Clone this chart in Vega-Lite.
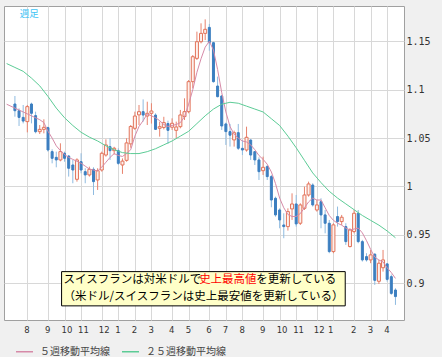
{
  "$schema": "https://vega.github.io/schema/vega-lite/v6.json",
  "width": 400,
  "height": 314,
  "autosize": {"type": "none"},
  "padding": {"left": 4, "top": 6, "right": 38, "bottom": 37},
  "background": "#f0f0f0",
  "config": {
    "view": {"fill": "white", "stroke": "#a0a0a0"},
    "axis": {"gridColor": "#d8d8d8", "gridWidth": 1, "ticks": false, "domain": false, "title": null}
  },
  "datasets": {
    "candles": [
      {"d":"2009-07-13","o":1.0852,"h":1.0935,"l":1.0721,"c":1.0783},
      {"d":"2009-07-20","o":1.0783,"h":1.0807,"l":1.0625,"c":1.0714},
      {"d":"2009-07-27","o":1.0714,"h":1.0842,"l":1.0652,"c":1.0676},
      {"d":"2009-08-03","o":1.0670,"h":1.0842,"l":1.0559,"c":1.0825},
      {"d":"2009-08-10","o":1.0852,"h":1.0866,"l":1.0652,"c":1.0756},
      {"d":"2009-08-17","o":1.0732,"h":1.0773,"l":1.0549,"c":1.0566},
      {"d":"2009-08-24","o":1.0566,"h":1.0635,"l":1.0542,"c":1.0590},
      {"d":"2009-08-31","o":1.0590,"h":1.0694,"l":1.0549,"c":1.0611},
      {"d":"2009-09-07","o":1.0608,"h":1.0618,"l":1.0360,"c":1.0377},
      {"d":"2009-09-14","o":1.0360,"h":1.0384,"l":1.0239,"c":1.0291},
      {"d":"2009-09-21","o":1.0301,"h":1.0360,"l":1.0198,"c":1.0274},
      {"d":"2009-09-28","o":1.0274,"h":1.0446,"l":1.0260,"c":1.0360},
      {"d":"2009-10-05","o":1.0343,"h":1.0360,"l":1.0256,"c":1.0291},
      {"d":"2009-10-12","o":1.0315,"h":1.0325,"l":1.0102,"c":1.0188},
      {"d":"2009-10-19","o":1.0222,"h":1.0274,"l":1.0033,"c":1.0170},
      {"d":"2009-10-26","o":1.0074,"h":1.0291,"l":1.0050,"c":1.0274},
      {"d":"2009-11-02","o":1.0256,"h":1.0343,"l":1.0136,"c":1.0170},
      {"d":"2009-11-09","o":1.0153,"h":1.0188,"l":1.0033,"c":1.0119},
      {"d":"2009-11-16","o":1.0119,"h":1.0205,"l":1.0102,"c":1.0177},
      {"d":"2009-11-23","o":1.0177,"h":1.0198,"l":0.9912,"c":1.0050},
      {"d":"2009-11-30","o":1.0067,"h":1.0188,"l":0.9964,"c":1.0163},
      {"d":"2009-12-07","o":1.0170,"h":1.0360,"l":1.0153,"c":1.0343},
      {"d":"2009-12-14","o":1.0325,"h":1.0487,"l":1.0308,"c":1.0429},
      {"d":"2009-12-21","o":1.0411,"h":1.0498,"l":1.0274,"c":1.0370},
      {"d":"2009-12-28","o":1.0370,"h":1.0410,"l":1.0330,"c":1.0395},
      {"d":"2010-01-04","o":1.0370,"h":1.0394,"l":1.0222,"c":1.0239},
      {"d":"2010-01-11","o":1.0222,"h":1.0290,"l":1.0130,"c":1.0262},
      {"d":"2010-01-18","o":1.0270,"h":1.0498,"l":1.0256,"c":1.0450},
      {"d":"2010-01-25","o":1.0440,"h":1.0635,"l":1.0400,"c":1.0620},
      {"d":"2010-02-01","o":1.0601,"h":1.0773,"l":1.0584,"c":1.0728},
      {"d":"2010-02-08","o":1.0740,"h":1.0842,"l":1.0635,"c":1.0773},
      {"d":"2010-02-15","o":1.0773,"h":1.0900,"l":1.0670,"c":1.0738},
      {"d":"2010-02-22","o":1.0728,"h":1.0876,"l":1.0635,"c":1.0756},
      {"d":"2010-03-01","o":1.0756,"h":1.0860,"l":1.0650,"c":1.0780},
      {"d":"2010-03-08","o":1.0738,"h":1.0756,"l":1.0584,"c":1.0590},
      {"d":"2010-03-15","o":1.0601,"h":1.0670,"l":1.0515,"c":1.0618},
      {"d":"2010-03-22","o":1.0610,"h":1.0720,"l":1.0590,"c":1.0660},
      {"d":"2010-03-29","o":1.0650,"h":1.0680,"l":1.0440,"c":1.0580},
      {"d":"2010-04-05","o":1.0612,"h":1.0704,"l":1.0584,"c":1.0653},
      {"d":"2010-04-12","o":1.0580,"h":1.0670,"l":1.0498,"c":1.0615},
      {"d":"2010-04-19","o":1.0618,"h":1.0791,"l":1.0601,"c":1.0739},
      {"d":"2010-04-26","o":1.0722,"h":1.0911,"l":1.0687,"c":1.0773},
      {"d":"2010-05-03","o":1.0773,"h":1.1100,"l":1.0756,"c":1.1083},
      {"d":"2010-05-10","o":1.1083,"h":1.1358,"l":1.1014,"c":1.1341},
      {"d":"2010-05-17","o":1.1324,"h":1.1600,"l":1.1307,"c":1.1496},
      {"d":"2010-05-24","o":1.1496,"h":1.1686,"l":1.1479,"c":1.1582},
      {"d":"2010-05-31","o":1.1582,"h":1.1727,"l":1.1513,"c":1.1624},
      {"d":"2010-06-07","o":1.1644,"h":1.1679,"l":1.1403,"c":1.1486},
      {"d":"2010-06-14","o":1.1486,"h":1.1496,"l":1.1073,"c":1.1083},
      {"d":"2010-06-21","o":1.1038,"h":1.1135,"l":1.0921,"c":1.0928},
      {"d":"2010-06-28","o":1.0935,"h":1.0945,"l":1.0584,"c":1.0625},
      {"d":"2010-07-05","o":1.0646,"h":1.0660,"l":1.0429,"c":1.0567},
      {"d":"2010-07-12","o":1.0567,"h":1.0646,"l":1.0412,"c":1.0530},
      {"d":"2010-07-19","o":1.0481,"h":1.0577,"l":1.0412,"c":1.0556},
      {"d":"2010-07-26","o":1.0556,"h":1.0646,"l":1.0377,"c":1.0395},
      {"d":"2010-08-02","o":1.0394,"h":1.0480,"l":1.0325,"c":1.0377},
      {"d":"2010-08-09","o":1.0377,"h":1.0618,"l":1.0360,"c":1.0508},
      {"d":"2010-08-16","o":1.0480,"h":1.0487,"l":1.0274,"c":1.0325},
      {"d":"2010-08-23","o":1.0360,"h":1.0365,"l":1.0222,"c":1.0274},
      {"d":"2010-08-30","o":1.0274,"h":1.0301,"l":1.0067,"c":1.0153},
      {"d":"2010-09-06","o":1.0163,"h":1.0308,"l":1.0119,"c":1.0198},
      {"d":"2010-09-13","o":1.0205,"h":1.0222,"l":1.0067,"c":1.0102},
      {"d":"2010-09-20","o":1.0102,"h":1.0119,"l":0.9785,"c":0.9860},
      {"d":"2010-09-27","o":0.9878,"h":0.9895,"l":0.9688,"c":0.9706},
      {"d":"2010-10-04","o":0.9757,"h":0.9774,"l":0.9568,"c":0.9654},
      {"d":"2010-10-11","o":0.9602,"h":0.9723,"l":0.9465,"c":0.9585},
      {"d":"2010-10-18","o":0.9585,"h":0.9774,"l":0.9544,"c":0.9740},
      {"d":"2010-10-25","o":0.9768,"h":0.9929,"l":0.9654,"c":0.9819},
      {"d":"2010-11-01","o":0.9819,"h":0.9912,"l":0.9585,"c":0.9613},
      {"d":"2010-11-08","o":0.9620,"h":0.9826,"l":0.9602,"c":0.9809},
      {"d":"2010-11-15","o":0.9774,"h":0.9998,"l":0.9757,"c":0.9912},
      {"d":"2010-11-22","o":0.9912,"h":1.0050,"l":0.9895,"c":1.0026},
      {"d":"2010-11-29","o":1.0015,"h":1.0033,"l":0.9792,"c":0.9809},
      {"d":"2010-12-06","o":0.9757,"h":0.9860,"l":0.9740,"c":0.9809},
      {"d":"2010-12-13","o":0.9843,"h":0.9878,"l":0.9568,"c":0.9706},
      {"d":"2010-12-20","o":0.9706,"h":0.9757,"l":0.9516,"c":0.9620},
      {"d":"2010-12-27","o":0.9620,"h":0.9654,"l":0.9310,"c":0.9327},
      {"d":"2011-01-03","o":0.9327,"h":0.9620,"l":0.9310,"c":0.9603},
      {"d":"2011-01-10","o":0.9689,"h":0.9792,"l":0.9585,"c":0.9637},
      {"d":"2011-01-17","o":0.9637,"h":0.9706,"l":0.9602,"c":0.9682},
      {"d":"2011-01-24","o":0.9585,"h":0.9620,"l":0.9396,"c":0.9430},
      {"d":"2011-01-31","o":0.9379,"h":0.9568,"l":0.9370,"c":0.9551},
      {"d":"2011-02-07","o":0.9534,"h":0.9757,"l":0.9516,"c":0.9723},
      {"d":"2011-02-14","o":0.9723,"h":0.9757,"l":0.9413,"c":0.9430},
      {"d":"2011-02-21","o":0.9430,"h":0.9448,"l":0.9224,"c":0.9241},
      {"d":"2011-02-28","o":0.9275,"h":0.9310,"l":0.9224,"c":0.9241},
      {"d":"2011-03-07","o":0.9241,"h":0.9344,"l":0.9207,"c":0.9293},
      {"d":"2011-03-14","o":0.9300,"h":0.9310,"l":0.8983,"c":0.9030},
      {"d":"2011-03-21","o":0.9020,"h":0.9241,"l":0.8993,"c":0.9207},
      {"d":"2011-03-28","o":0.9160,"h":0.9344,"l":0.9120,"c":0.9241},
      {"d":"2011-04-04","o":0.9200,"h":0.9207,"l":0.9017,"c":0.9040},
      {"d":"2011-04-11","o":0.9068,"h":0.9090,"l":0.8880,"c":0.8895},
      {"d":"2011-04-18","o":0.8930,"h":0.8948,"l":0.8776,"c":0.8862}
    ],
    "ma": [
      {"d":"2009-06-29","v":1.085,"s":"５週移動平均線"},
      {"d":"2009-07-13","v":1.081,"s":"５週移動平均線"},
      {"d":"2009-07-27","v":1.077,"s":"５週移動平均線"},
      {"d":"2009-08-10","v":1.073,"s":"５週移動平均線"},
      {"d":"2009-08-24","v":1.069,"s":"５週移動平均線"},
      {"d":"2009-08-31","v":1.066,"s":"５週移動平均線"},
      {"d":"2009-09-07","v":1.057,"s":"５週移動平均線"},
      {"d":"2009-09-14","v":1.050,"s":"５週移動平均線"},
      {"d":"2009-09-21","v":1.042,"s":"５週移動平均線"},
      {"d":"2009-09-28","v":1.037,"s":"５週移動平均線"},
      {"d":"2009-10-05","v":1.033,"s":"５週移動平均線"},
      {"d":"2009-10-12","v":1.030,"s":"５週移動平均線"},
      {"d":"2009-10-19","v":1.028,"s":"５週移動平均線"},
      {"d":"2009-10-26","v":1.026,"s":"５週移動平均線"},
      {"d":"2009-11-02","v":1.024,"s":"５週移動平均線"},
      {"d":"2009-11-09","v":1.021,"s":"５週移動平均線"},
      {"d":"2009-11-16","v":1.018,"s":"５週移動平均線"},
      {"d":"2009-11-23","v":1.017,"s":"５週移動平均線"},
      {"d":"2009-11-30","v":1.016,"s":"５週移動平均線"},
      {"d":"2009-12-07","v":1.020,"s":"５週移動平均線"},
      {"d":"2009-12-14","v":1.025,"s":"５週移動平均線"},
      {"d":"2009-12-21","v":1.030,"s":"５週移動平均線"},
      {"d":"2009-12-28","v":1.034,"s":"５週移動平均線"},
      {"d":"2010-01-04","v":1.032,"s":"５週移動平均線"},
      {"d":"2010-01-11","v":1.031,"s":"５週移動平均線"},
      {"d":"2010-01-18","v":1.034,"s":"５週移動平均線"},
      {"d":"2010-01-25","v":1.038,"s":"５週移動平均線"},
      {"d":"2010-02-01","v":1.052,"s":"５週移動平均線"},
      {"d":"2010-02-08","v":1.062,"s":"５週移動平均線"},
      {"d":"2010-02-15","v":1.068,"s":"５週移動平均線"},
      {"d":"2010-02-22","v":1.075,"s":"５週移動平均線"},
      {"d":"2010-03-01","v":1.073,"s":"５週移動平均線"},
      {"d":"2010-03-08","v":1.071,"s":"５週移動平均線"},
      {"d":"2010-03-15","v":1.068,"s":"５週移動平均線"},
      {"d":"2010-03-22","v":1.064,"s":"５週移動平均線"},
      {"d":"2010-03-29","v":1.062,"s":"５週移動平均線"},
      {"d":"2010-04-05","v":1.063,"s":"５週移動平均線"},
      {"d":"2010-04-12","v":1.064,"s":"５週移動平均線"},
      {"d":"2010-04-19","v":1.066,"s":"５週移動平均線"},
      {"d":"2010-04-26","v":1.072,"s":"５週移動平均線"},
      {"d":"2010-05-03","v":1.085,"s":"５週移動平均線"},
      {"d":"2010-05-10","v":1.100,"s":"５週移動平均線"},
      {"d":"2010-05-17","v":1.118,"s":"５週移動平均線"},
      {"d":"2010-05-24","v":1.132,"s":"５週移動平均線"},
      {"d":"2010-05-31","v":1.144,"s":"５週移動平均線"},
      {"d":"2010-06-07","v":1.150,"s":"５週移動平均線"},
      {"d":"2010-06-14","v":1.141,"s":"５週移動平均線"},
      {"d":"2010-06-21","v":1.121,"s":"５週移動平均線"},
      {"d":"2010-06-28","v":1.097,"s":"５週移動平均線"},
      {"d":"2010-07-05","v":1.077,"s":"５週移動平均線"},
      {"d":"2010-07-12","v":1.062,"s":"５週移動平均線"},
      {"d":"2010-07-19","v":1.054,"s":"５週移動平均線"},
      {"d":"2010-07-26","v":1.050,"s":"５週移動平均線"},
      {"d":"2010-08-02","v":1.047,"s":"５週移動平均線"},
      {"d":"2010-08-09","v":1.046,"s":"５週移動平均線"},
      {"d":"2010-08-16","v":1.043,"s":"５週移動平均線"},
      {"d":"2010-08-23","v":1.038,"s":"５週移動平均線"},
      {"d":"2010-08-30","v":1.032,"s":"５週移動平均線"},
      {"d":"2010-09-06","v":1.028,"s":"５週移動平均線"},
      {"d":"2010-09-13","v":1.023,"s":"５週移動平均線"},
      {"d":"2010-09-20","v":1.015,"s":"５週移動平均線"},
      {"d":"2010-09-27","v":1.003,"s":"５週移動平均線"},
      {"d":"2010-10-04","v":0.988,"s":"５週移動平均線"},
      {"d":"2010-10-11","v":0.978,"s":"５週移動平均線"},
      {"d":"2010-10-18","v":0.971,"s":"５週移動平均線"},
      {"d":"2010-10-25","v":0.969,"s":"５週移動平均線"},
      {"d":"2010-11-01","v":0.969,"s":"５週移動平均線"},
      {"d":"2010-11-08","v":0.972,"s":"５週移動平均線"},
      {"d":"2010-11-15","v":0.978,"s":"５週移動平均線"},
      {"d":"2010-11-22","v":0.984,"s":"５週移動平均線"},
      {"d":"2010-11-29","v":0.988,"s":"５週移動平均線"},
      {"d":"2010-12-06","v":0.986,"s":"５週移動平均線"},
      {"d":"2010-12-13","v":0.986,"s":"５週移動平均線"},
      {"d":"2010-12-20","v":0.978,"s":"５週移動平均線"},
      {"d":"2010-12-27","v":0.970,"s":"５週移動平均線"},
      {"d":"2011-01-03","v":0.965,"s":"５週移動平均線"},
      {"d":"2011-01-10","v":0.962,"s":"５週移動平均線"},
      {"d":"2011-01-17","v":0.960,"s":"５週移動平均線"},
      {"d":"2011-01-24","v":0.957,"s":"５週移動平均線"},
      {"d":"2011-01-31","v":0.955,"s":"５週移動平均線"},
      {"d":"2011-02-07","v":0.956,"s":"５週移動平均線"},
      {"d":"2011-02-14","v":0.957,"s":"５週移動平均線"},
      {"d":"2011-02-21","v":0.952,"s":"５週移動平均線"},
      {"d":"2011-02-28","v":0.944,"s":"５週移動平均線"},
      {"d":"2011-03-07","v":0.935,"s":"５週移動平均線"},
      {"d":"2011-03-14","v":0.927,"s":"５週移動平均線"},
      {"d":"2011-03-21","v":0.924,"s":"５週移動平均線"},
      {"d":"2011-03-28","v":0.922,"s":"５週移動平均線"},
      {"d":"2011-04-04","v":0.916,"s":"５週移動平均線"},
      {"d":"2011-04-11","v":0.911,"s":"５週移動平均線"},
      {"d":"2011-04-18","v":0.905,"s":"５週移動平均線"},
      {"d":"2009-06-29","v":1.127,"s":"２５週移動平均線"},
      {"d":"2009-07-13","v":1.123,"s":"２５週移動平均線"},
      {"d":"2009-07-27","v":1.119,"s":"２５週移動平均線"},
      {"d":"2009-08-10","v":1.112,"s":"２５週移動平均線"},
      {"d":"2009-08-24","v":1.104,"s":"２５週移動平均線"},
      {"d":"2009-09-07","v":1.093,"s":"２５週移動平均線"},
      {"d":"2009-09-21","v":1.081,"s":"２５週移動平均線"},
      {"d":"2009-10-05","v":1.071,"s":"２５週移動平均線"},
      {"d":"2009-10-19","v":1.063,"s":"２５週移動平均線"},
      {"d":"2009-11-02","v":1.056,"s":"２５週移動平均線"},
      {"d":"2009-11-16","v":1.051,"s":"２５週移動平均線"},
      {"d":"2009-11-30","v":1.047,"s":"２５週移動平均線"},
      {"d":"2009-12-14","v":1.042,"s":"２５週移動平均線"},
      {"d":"2009-12-28","v":1.038,"s":"２５週移動平均線"},
      {"d":"2010-01-11","v":1.035,"s":"２５週移動平均線"},
      {"d":"2010-01-25","v":1.034,"s":"２５週移動平均線"},
      {"d":"2010-02-08","v":1.034,"s":"２５週移動平均線"},
      {"d":"2010-02-22","v":1.036,"s":"２５週移動平均線"},
      {"d":"2010-03-08","v":1.039,"s":"２５週移動平均線"},
      {"d":"2010-03-22","v":1.043,"s":"２５週移動平均線"},
      {"d":"2010-04-05","v":1.047,"s":"２５週移動平均線"},
      {"d":"2010-04-19","v":1.052,"s":"２５週移動平均線"},
      {"d":"2010-05-03","v":1.057,"s":"２５週移動平均線"},
      {"d":"2010-05-17","v":1.065,"s":"２５週移動平均線"},
      {"d":"2010-05-31","v":1.073,"s":"２５週移動平均線"},
      {"d":"2010-06-14","v":1.080,"s":"２５週移動平均線"},
      {"d":"2010-06-28","v":1.085,"s":"２５週移動平均線"},
      {"d":"2010-07-12","v":1.087,"s":"２５週移動平均線"},
      {"d":"2010-07-26","v":1.086,"s":"２５週移動平均線"},
      {"d":"2010-08-09","v":1.083,"s":"２５週移動平均線"},
      {"d":"2010-08-23","v":1.080,"s":"２５週移動平均線"},
      {"d":"2010-09-06","v":1.077,"s":"２５週移動平均線"},
      {"d":"2010-09-20","v":1.070,"s":"２５週移動平均線"},
      {"d":"2010-10-04","v":1.063,"s":"２５週移動平均線"},
      {"d":"2010-10-18","v":1.052,"s":"２５週移動平均線"},
      {"d":"2010-11-01","v":1.040,"s":"２５週移動平均線"},
      {"d":"2010-11-15","v":1.027,"s":"２５週移動平均線"},
      {"d":"2010-11-29","v":1.014,"s":"２５週移動平均線"},
      {"d":"2010-12-13","v":1.004,"s":"２５週移動平均線"},
      {"d":"2010-12-27","v":0.995,"s":"２５週移動平均線"},
      {"d":"2011-01-10","v":0.988,"s":"２５週移動平均線"},
      {"d":"2011-01-24","v":0.982,"s":"２５週移動平均線"},
      {"d":"2011-02-07","v":0.976,"s":"２５週移動平均線"},
      {"d":"2011-02-21","v":0.970,"s":"２５週移動平均線"},
      {"d":"2011-03-07","v":0.965,"s":"２５週移動平均線"},
      {"d":"2011-03-21","v":0.960,"s":"２５週移動平均線"},
      {"d":"2011-04-04","v":0.954,"s":"２５週移動平均線"},
      {"d":"2011-04-18","v":0.947,"s":"２５週移動平均線"}
    ]
  },
  "encoding": {
    "x": {
      "type": "temporal",
      "scale": {"type": "utc", "domain": [{"year": 2009, "month": 7, "date": 3, "utc": true}, {"year": 2011, "month": 4, "date": 24, "utc": true}]},
      "axis": {
        "values": [
          {"year":2009,"month":8,"date":3,"utc":true},{"year":2009,"month":9,"date":7,"utc":true},{"year":2009,"month":10,"date":5,"utc":true},{"year":2009,"month":11,"date":2,"utc":true},{"year":2009,"month":12,"date":7,"utc":true},
          {"year":2010,"month":1,"date":4,"utc":true},{"year":2010,"month":2,"date":1,"utc":true},{"year":2010,"month":3,"date":1,"utc":true},{"year":2010,"month":4,"date":5,"utc":true},{"year":2010,"month":5,"date":3,"utc":true},{"year":2010,"month":6,"date":7,"utc":true},{"year":2010,"month":7,"date":5,"utc":true},{"year":2010,"month":8,"date":2,"utc":true},{"year":2010,"month":9,"date":6,"utc":true},{"year":2010,"month":10,"date":4,"utc":true},{"year":2010,"month":11,"date":1,"utc":true},{"year":2010,"month":12,"date":6,"utc":true},
          {"year":2011,"month":1,"date":3,"utc":true},{"year":2011,"month":2,"date":7,"utc":true},{"year":2011,"month":3,"date":7,"utc":true},{"year":2011,"month":4,"date":4,"utc":true}
        ],
        "labelExpr": "utcFormat(datum.value, '%-m')",
        "labelFont": "DejaVu Sans", "labelFontSize": 8.5, "labelColor": "#333333",
        "labelAlign": "left", "labelPadding": 5, "labelOverlap": false, "labelFlush": false,
        "labelOffset": {"condition": {"test": "utcyear(datum.value) == 2011 && utcmonth(datum.value) == 0", "value": -6}, "value": -3.5}
      }
    },
    "y": {
      "type": "quantitative",
      "scale": {"domain": [0.862, 1.1865], "nice": false, "zero": false},
      "axis": {"orient": "right", "values": [0.9, 0.95, 1, 1.05, 1.1, 1.15], "format": ".2~f",
        "labelFont": "DejaVu Sans Mono", "labelFontSize": 10, "labelColor": "#333333", "labelPadding": 2}
    }
  },
  "layer": [
    {
      "data": {"name": "candles"},
      "mark": {"type": "rule", "strokeWidth": 1},
      "encoding": {
        "x": {"field": "d"},
        "y": {"field": "l"},
        "y2": {"field": "h"},
        "color": {"condition": {"test": "datum.c >= datum.o", "value": "#e8826c"}, "value": "#8fbbe0"}
      }
    },
    {
      "data": {"name": "candles"},
      "mark": {"type": "bar", "strokeWidth": 1},
      "encoding": {
        "x": {"field": "d"},
        "y": {"field": "o"},
        "y2": {"field": "c"},
        "size": {"condition": {"test": "datum.c >= datum.o", "value": 3}, "value": 2},
        "fill": {"condition": {"test": "datum.c >= datum.o", "value": "#fdf1ed"}, "value": "#3c7fc0"},
        "stroke": {"condition": {"test": "datum.c >= datum.o", "value": "#e2735a"}, "value": "#3c7fc0"}
      }
    },
    {
      "data": {"name": "ma"},
      "mark": {"type": "line", "strokeWidth": 1, "clip": true},
      "encoding": {
        "x": {"field": "d"},
        "y": {"field": "v"},
        "color": {"field": "s", "type": "nominal",
          "scale": {"domain": ["５週移動平均線", "２５週移動平均線"], "range": ["#d68aa8", "#5ccc96"]},
          "legend": {"orient": "none", "legendX": 11, "legendY": 336, "direction": "horizontal", "title": null,
            "symbolType": "stroke", "symbolSize": 289, "symbolStrokeWidth": 1.5, "labelFont": "Noto Sans CJK JP",
            "labelFontSize": 10, "labelColor": "#444444", "labelOffset": 6, "columnPadding": 9, "padding": 0}}
      }
    },
    {
      "data": {"values": [{}]},
      "mark": {"type": "rect", "fill": "#ffffc8", "stroke": "#000000", "strokeWidth": 1},
      "encoding": {
        "x": {"datum": {"year": 2009, "month": 9, "date": 30, "utc": true}},
        "x2": {"datum": {"year": 2011, "month": 1, "date": 23, "utc": true}},
        "y": {"datum": 0.912},
        "y2": {"datum": 0.8766}
      }
    },
    {
      "data": {"values": [{}]},
      "mark": {"type": "text", "text": "スイスフランは対米ドルで", "align": "left", "baseline": "middle", "font": "Noto Sans CJK JP", "fontSize": 11.5, "color": "#000000"},
      "encoding": {
        "x": {"datum": {"year": 2009, "month": 10, "date": 3, "hours": 9, "utc": true}},
        "y": {"datum": 0.90335}
      }
    },
    {
      "data": {"values": [{}]},
      "mark": {"type": "text", "text": "史上最高値", "align": "left", "baseline": "middle", "font": "Noto Sans CJK JP", "fontSize": 11.5, "color": "#ff0000"},
      "encoding": {
        "x": {"datum": {"year": 2010, "month": 5, "date": 20, "hours": 18, "utc": true}},
        "y": {"datum": 0.90335}
      }
    },
    {
      "data": {"values": [{}]},
      "mark": {"type": "text", "text": "を更新している", "align": "left", "baseline": "middle", "font": "Noto Sans CJK JP", "fontSize": 11.5, "color": "#000000"},
      "encoding": {
        "x": {"datum": {"year": 2010, "month": 8, "date": 25, "hours": 6, "utc": true}},
        "y": {"datum": 0.90335}
      }
    },
    {
      "data": {"values": [{}]},
      "mark": {"type": "text", "text": "（米ドル/スイスフランは史上最安値を更新している）", "align": "left", "baseline": "middle", "font": "Noto Sans CJK JP", "fontSize": 11.5, "color": "#000000"},
      "encoding": {
        "x": {"datum": {"year": 2009, "month": 10, "date": 3, "hours": 9, "utc": true}},
        "y": {"datum": 0.88578}
      }
    },
    {
      "data": {"values": [{}]},
      "mark": {"type": "text", "text": "週足", "align": "left", "baseline": "middle", "font": "Noto Sans CJK JP", "fontSize": 9.5, "color": "#3ec3f5"},
      "encoding": {
        "x": {"datum": {"year": 2009, "month": 7, "date": 21, "utc": true}},
        "y": {"datum": 1.178}
      }
    }
  ]
}
